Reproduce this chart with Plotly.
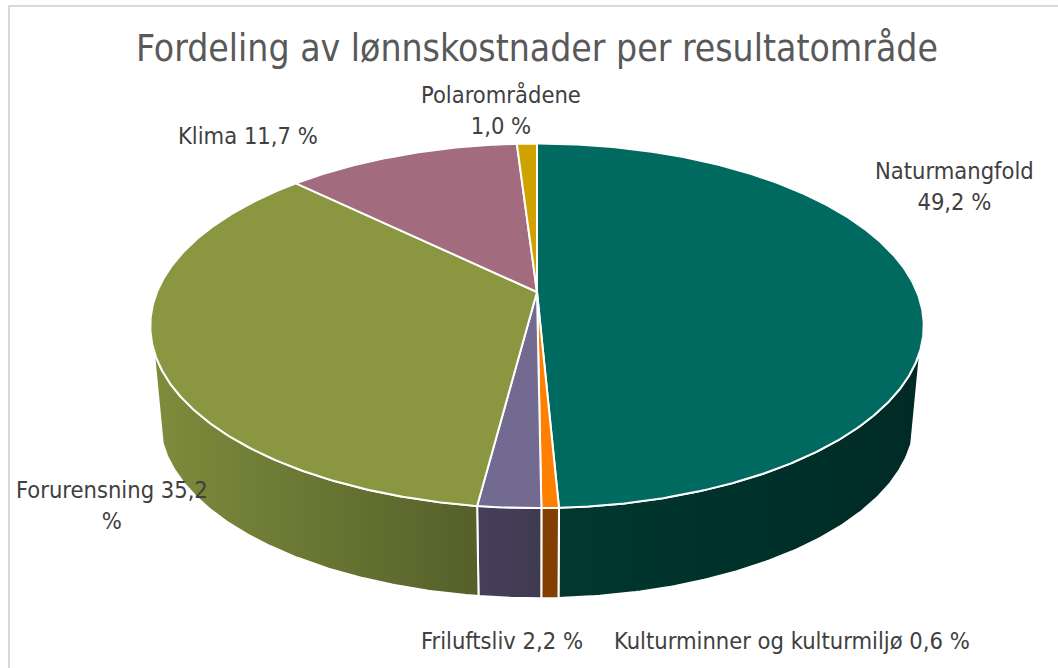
import numpy as np
import plotly.graph_objects as go

# ---- data ----
categories = ["Naturmangfold", "Kulturminner og kulturmiljø", "Friluftsliv",
              "Forurensning", "Klima", "Polarområdene"]
values = [49.2, 0.6, 2.2, 35.2, 11.7, 1.0]
label_texts = ["Naturmangfold<br>49,2 %", "Kulturminner og kulturmiljø 0,6 %", "Friluftsliv 2,2 %",
               "Forurensning 35,2<br>%", "Klima 11,7 %", "Polarområdene<br>1,0 %"]
title_text = "Fordeling av lønnskostnader per resultatområde"

# ---- styles ----
top_colors = ["#006A60", "#FF8000", "#736A92", "#8A9640", "#A36B7E", "#CFA200"]
wall_colors = [
    ["#00382F", "#002A26"],
    ["#833F00", "#833F00"],
    ["#463F5C", "#403A50"],
    ["#7E8C3C", "#55602A"],
]
label_pos = [(954, 186), (792, 641), (502, 641), (112, 505), (248, 136), (501, 110)]
FONT = "DejaVu Sans Condensed, DejaVu Sans"
W, H = 1058, 668

# perspective projection of a circle: (cx, apex y, radius, depth, tilt)
TOP = (537, 292, 380, 176, 0.1856)
BOT = (537, 387, 371, 172, 0.1856)
WALL_FROM, WALL_TO = 108.0, 252.0


def project(deg, p):
    cx, ay, r, b, k = p
    t = np.radians(deg)
    f = 1 / (1 + k * np.cos(t))
    return cx + r * np.sin(t) * f, ay - b * np.cos(t) * f


edges = np.concatenate([[0], np.cumsum(values)]) / sum(values) * 360
edges[-1] = 360

fig = go.Figure()

# side walls (front part of the cylinder only)
for i, cols in enumerate(wall_colors):
    a0 = max(edges[i], WALL_FROM)
    a1 = min(edges[i + 1], WALL_TO)
    a = np.linspace(a0, a1, 120)
    tx, ty = project(a, TOP)
    bx, by = project(a[::-1], BOT)
    fig.add_trace(go.Scatter(
        x=np.concatenate([tx, bx, tx[:1]]), y=np.concatenate([ty, by, ty[:1]]),
        mode="lines", fill="toself",
        fillgradient=dict(type="horizontal", colorscale=[[0, cols[0]], [1, cols[1]]]),
        line=dict(color="white", width=2), hoverinfo="skip", showlegend=False))

# top slices
for i, name in enumerate(categories):
    a = np.linspace(edges[i], edges[i + 1], max(8, int(values[i] * 8)))
    x, y = project(a, TOP)
    ax, ay = TOP[0], TOP[1]
    fig.add_trace(go.Scatter(
        x=np.concatenate([[ax], x, [ax]]), y=np.concatenate([[ay], y, [ay]]),
        mode="lines", fill="toself", fillcolor=top_colors[i], name=name,
        line=dict(color="white", width=2), hoverinfo="name", showlegend=False))

for txt, (lx, ly) in zip(label_texts, label_pos):
    fig.add_annotation(x=lx, y=ly, text=txt, showarrow=False, xanchor="center", yanchor="middle",
                       font=dict(family=FONT, size=23.5, color="#404040"))
fig.add_annotation(x=537, y=48, text=title_text, showarrow=False, xanchor="center", yanchor="middle",
                   font=dict(family=FONT, size=37, color="#595959"))

fig.add_shape(type="rect", x0=9, y0=6, x1=W + 20, y1=H + 20,
              line=dict(color="#D9D9D9", width=2), fillcolor="rgba(0,0,0,0)", layer="below")

fig.update_layout(
    width=W, height=H, margin=dict(l=0, r=0, t=0, b=0),
    paper_bgcolor="white", plot_bgcolor="white", showlegend=False,
    xaxis=dict(range=[0, W], visible=False, fixedrange=True),
    yaxis=dict(range=[H, 0], visible=False, fixedrange=True),
)
fig.write_html("out.html", config={"displayModeBar": False},
               post_script="document.body.style.margin='0';document.body.style.overflow='hidden';")
